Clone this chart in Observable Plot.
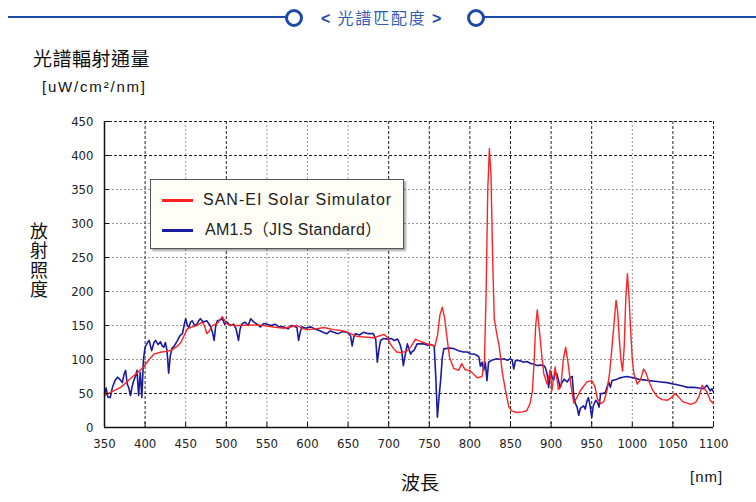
<!DOCTYPE html>
<html><head><meta charset="utf-8">
<script src="https://cdn.jsdelivr.net/npm/d3@7"></script>
<script src="https://cdn.jsdelivr.net/npm/@observablehq/plot@0.6"></script>
<style>
body{margin:0;background:#fff;}
#wrap{position:relative;width:756px;height:502px;overflow:hidden;font-family:"Liberation Sans",Arial,sans-serif;color:#111;}
.abs{position:absolute;white-space:nowrap;}
#chart{position:absolute;left:0;top:0;}
.hline{position:absolute;height:2px;background:#1d4aa5;top:16px;}
.ring{position:absolute;width:12px;height:12px;border:3px solid #1d4aa5;border-radius:50%;top:9px;background:#fff;}
.cjk{font-family:"Noto Sans CJK TC","Noto Sans CJK JP",sans-serif;}
#legend{position:absolute;left:150px;top:179px;width:254px;height:70px;box-sizing:border-box;background:#fffef6;border:1px solid #555;box-shadow:2px 2px 2px rgba(0,0,0,0.35);}
.sw{position:absolute;left:11px;width:31px;height:3px;}
.lt{position:absolute;left:52px;font-family:"Liberation Sans",Arial,"Noto Sans CJK JP",sans-serif;font-size:16px;letter-spacing:0.3px;color:#222;line-height:16px;}
#ytitle{writing-mode:vertical-rl;text-orientation:upright;letter-spacing:1.5px;}
</style></head>
<body><div id="wrap">
  <div class="hline" style="left:8px;width:279px;"></div>
  <div class="ring" style="left:285px;"></div>
  <div class="abs cjk" style="left:321px;top:7px;font-size:16px;line-height:20px;color:#2f5db8;letter-spacing:1.8px;"><b style="color:#1d4aa5;font-family:'Liberation Sans';">&lt;</b>&nbsp;光譜匹配度&nbsp;<b style="color:#1d4aa5;font-family:'Liberation Sans';">&gt;</b></div>
  <div class="ring" style="left:467px;"></div>
  <div class="hline" style="left:484px;width:272px;"></div>
  <div class="abs cjk" style="left:33px;top:48px;font-size:19px;line-height:20px;letter-spacing:0.5px;">光譜輻射通量</div>
  <div class="abs" style="left:42px;top:79px;font-size:15px;line-height:16px;letter-spacing:1.8px;">[uW/cm²/nm]</div>
  <div id="ytitle" class="abs cjk" style="left:29px;top:222px;font-size:18px;line-height:20px;">放射照度</div>
  <div class="abs cjk" style="left:401px;top:472px;font-size:19px;line-height:20px;">波長</div>
  <div class="abs" style="left:690px;top:469px;font-size:15px;line-height:16px;letter-spacing:1px;">[nm]</div>
  <div id="chart"></div>
  <div id="legend">
    <div class="sw" style="top:19px;background:#ff2222;"></div>
    <div class="lt" style="top:12px;letter-spacing:1px;">SAN-EI Solar Simulator</div>
    <div class="sw" style="top:49px;background:#1b1b9e;"></div>
    <div class="lt" style="top:42px;left:54px;">AM1.5（JIS Standard）</div>
  </div>
</div>
<script>
// [wavelength nm, irradiance uW/cm2/nm]
const simulatorSpectrum = [
[350,47],[355,50],[360,53],[370,59],[382,72],[390,80],[398,89],[405,100],[411,108],[420,111],[427,112],[433,114],[440,120],[444,125],[452,145],[458,148],[464,150],[470,155],[473,150],[476,138],[479,142],[483,150],[489,153],[495,163],[501,152],[510,150],[517,150],[538,151],[550,149],[563,147],[571,146],[587,150],[593,146],[600,144],[610,145],[620,147],[632,144],[645,142],[655,137],[661,134],[670,133],[682,132],[694,137],[698,133],[702,123],[706,116],[710,111],[716,110],[723,113],[728,120],[733,130],[738,127],[743,125],[750,122],[757,120],[760,135],[763,165],[766,177],[769,160],[772,130],[775,103],[780,87],[786,84],[790,94],[794,85],[800,84],[809,73],[815,75],[818,100],[820,200],[822,350],[824,410],[826,370],[828,250],[830,160],[833,138],[836,120],[840,80],[844,54],[848,30],[852,24],[858,22],[865,23],[870,25],[874,35],[877,54],[879,95],[881,150],[883,173],[885,150],[887,125],[889,100],[891,79],[895,64],[899,84],[901,54],[905,89],[909,56],[912,60],[915,100],[918,118],[921,94],[924,65],[928,36],[932,45],[936,54],[944,67],[950,69],[954,60],[957,42],[961,35],[965,38],[969,55],[972,80],[975,118],[978,160],[980,187],[982,170],[984,130],[986,100],[988,83],[990,118],[992,190],[994,226],[996,190],[998,143],[1000,100],[1002,79],[1006,64],[1010,70],[1014,86],[1017,80],[1020,69],[1025,55],[1031,45],[1037,41],[1043,40],[1048,44],[1053,50],[1057,45],[1062,38],[1072,34],[1078,37],[1082,45],[1086,62],[1089,57],[1092,52],[1096,40],[1100,35]
];
const am15Spectrum = [
[350,50],[352,58],[354,45],[357,44],[360,60],[363,69],[366,74],[368,72],[372,66],[374,78],[376,84],[378,64],[380,58],[382,47],[384,60],[386,69],[388,75],[390,84],[392,47],[394,81],[396,44],[398,101],[400,118],[403,125],[405,128],[408,113],[411,125],[413,128],[416,122],[419,126],[421,120],[423,118],[425,125],[427,113],[429,80],[431,105],[433,116],[436,120],[440,128],[443,135],[446,138],[448,150],[450,160],[452,150],[454,147],[456,155],[458,157],[461,150],[464,152],[466,157],[468,160],[472,155],[476,157],[480,150],[483,140],[485,128],[487,150],[489,157],[492,158],[495,160],[498,152],[501,155],[505,150],[509,152],[512,145],[515,128],[517,145],[519,152],[523,155],[527,150],[530,160],[534,155],[538,152],[542,148],[546,153],[550,152],[555,150],[560,152],[565,148],[571,148],[576,145],[580,150],[585,148],[587,147],[589,128],[591,140],[593,148],[598,146],[604,148],[609,145],[614,143],[619,140],[624,138],[628,142],[632,140],[638,138],[643,141],[649,140],[653,135],[655,120],[657,133],[659,138],[664,136],[669,140],[675,138],[681,138],[684,130],[686,96],[688,115],[690,128],[694,131],[698,130],[703,131],[707,128],[711,130],[714,122],[716,113],[718,91],[720,105],[723,123],[725,115],[727,108],[729,112],[731,113],[735,123],[739,123],[743,123],[748,121],[752,122],[756,120],[758,74],[760,15],[762,45],[764,70],[766,103],[768,116],[770,116],[775,117],[780,116],[786,113],[792,111],[797,111],[801,108],[805,108],[809,106],[811,104],[813,90],[815,96],[817,84],[819,96],[821,69],[823,96],[827,99],[833,101],[838,100],[842,101],[846,99],[850,101],[852,99],[854,86],[856,98],[858,99],[862,98],[866,96],[870,97],[875,94],[879,93],[883,91],[887,92],[891,91],[893,88],[895,79],[897,59],[899,84],[901,75],[903,69],[905,80],[907,79],[909,70],[911,59],[913,65],[916,71],[918,69],[920,67],[923,73],[926,75],[928,44],[930,35],[932,30],[934,18],[936,28],[938,30],[940,32],[942,27],[944,38],[946,44],[948,32],[950,15],[952,32],[955,40],[957,37],[959,30],[961,50],[964,50],[967,52],[969,60],[971,67],[973,59],[975,69],[978,70],[981,71],[985,73],[988,74],[993,75],[998,74],[1002,73],[1008,71],[1014,70],[1020,69],[1028,68],[1035,67],[1043,66],[1050,64],[1055,63],[1062,61],[1068,59],[1076,59],[1082,58],[1088,57],[1090,60],[1092,62],[1094,58],[1096,54],[1098,57],[1100,52]
];
const xTicks = [350,400,450,500,550,600,650,700,750,800,850,900,950,1000,1050,1100];
const yTicks = [0,50,100,150,200,250,300,350,400,450];
const xGridDark = [400,500,700,750,800,850,900,950,1050,1100];
const xGridLight = [450,550,600,650,1000];
const yGridDark = [50,400,450];
const yGridLight = [100,150,200,250,300,350];

const sim = simulatorSpectrum.map(([w, v]) => ({w, v}));
const am = am15Spectrum.map(([w, v]) => ({w, v}));

const chart = Plot.plot({
  width: 756, height: 502,
  marginLeft: 104, marginRight: 43, marginTop: 121, marginBottom: 75,
  style: {fontFamily: "'Liberation Sans Narrow','DejaVu Sans Condensed','Liberation Sans',Arial,sans-serif", fontStretch: "condensed", fontSize: "13px", color: "#222", background: "transparent"},
  x: {domain: [350, 1100]},
  y: {domain: [0, 450]},
  marks: [
    Plot.ruleY(yGridLight, {stroke: "#9a9a9a", strokeDasharray: "2,2"}),
    Plot.ruleX(xGridLight, {stroke: "#9a9a9a", strokeDasharray: "2,2"}),
    Plot.ruleY(yGridDark, {stroke: "#222", strokeDasharray: "3,2"}),
    Plot.ruleX(xGridDark, {stroke: "#222", strokeDasharray: "3,2"}),
    Plot.line(am, {x: "w", y: "v", stroke: "#1b1b9e", strokeWidth: 1.6}),
    Plot.line(sim, {x: "w", y: "v", stroke: "#ff2222", strokeWidth: 1.4}),
    Plot.axisX({ticks: xTicks, tickFormat: d => String(d), tickSize: -5, tickPadding: 16, label: null, stroke: "#111"}),
    Plot.axisY({ticks: yTicks, tickFormat: d => String(d), tickSize: -5, tickPadding: 16, label: null, stroke: "#111"}),
    Plot.ruleX([350], {stroke: "#111", strokeWidth: 1.5}),
    Plot.ruleY([0], {stroke: "#111", strokeWidth: 1.5})
  ]
});
document.getElementById("chart").appendChild(chart);
</script>
</body></html>
